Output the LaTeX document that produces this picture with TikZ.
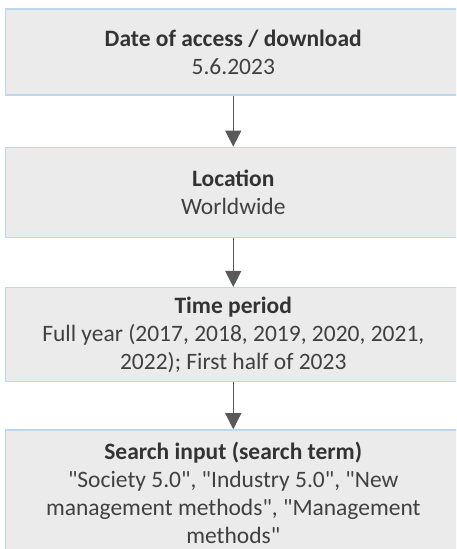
\documentclass[tikz,border=0pt]{standalone}
\usepackage{fontspec}
\setmainfont{Carlito}[Ligatures=TeXOff]
\usepackage{tikz}
\usetikzlibrary{arrows.meta, positioning}
\definecolor{boxfill}{HTML}{EBEBEB}
\definecolor{boxline}{HTML}{BDD7EE}
\definecolor{arrowgray}{HTML}{595959}
\definecolor{textgray}{HTML}{404040}
\definecolor{titlegray}{HTML}{333333}
\tikzstyle{stepbox} = [rectangle, minimum width=455.5pt, align=center, text=textgray, fill=boxfill, draw=boxline, line width=1.3pt, font=\fontsize{23.5}{28}\selectfont]
\tikzstyle{flow} = [-{Triangle[length=16pt, width=16pt]}, draw=arrowgray, line width=1.2pt]
\newcommand{\steptitle}[1]{{\bfseries\color{titlegray}#1}}

\begin{document}
\begin{tikzpicture}[x=1pt, y=1pt]
\useasboundingbox (0,0) rectangle (456,549);
\clip (0,0) rectangle (456,549);
\node (date) [stepbox, minimum height=86pt] at (233.25,497) {\steptitle{Date of access / download}\\5.6.2023};
\node (location) [stepbox, minimum height=90pt, below=51pt of date] {\steptitle{Location}\\Worldwide};
\node (period) [stepbox, minimum height=94pt, below=49pt of location] {\steptitle{Time period}\\Full year (2017, 2018, 2019, 2020, 2021,\\2022); First half of 2023};
\node (search) [stepbox, minimum height=126pt, below=47pt of period] {\steptitle{Search input (search term)}\\"Society 5.0", "Industry 5.0", "New\\management methods", "Management\\methods"};
\draw [flow] (date) -- (location);
\draw [flow] (location) -- (period);
\draw [flow] (period) -- (search);
\end{tikzpicture}
\end{document}
